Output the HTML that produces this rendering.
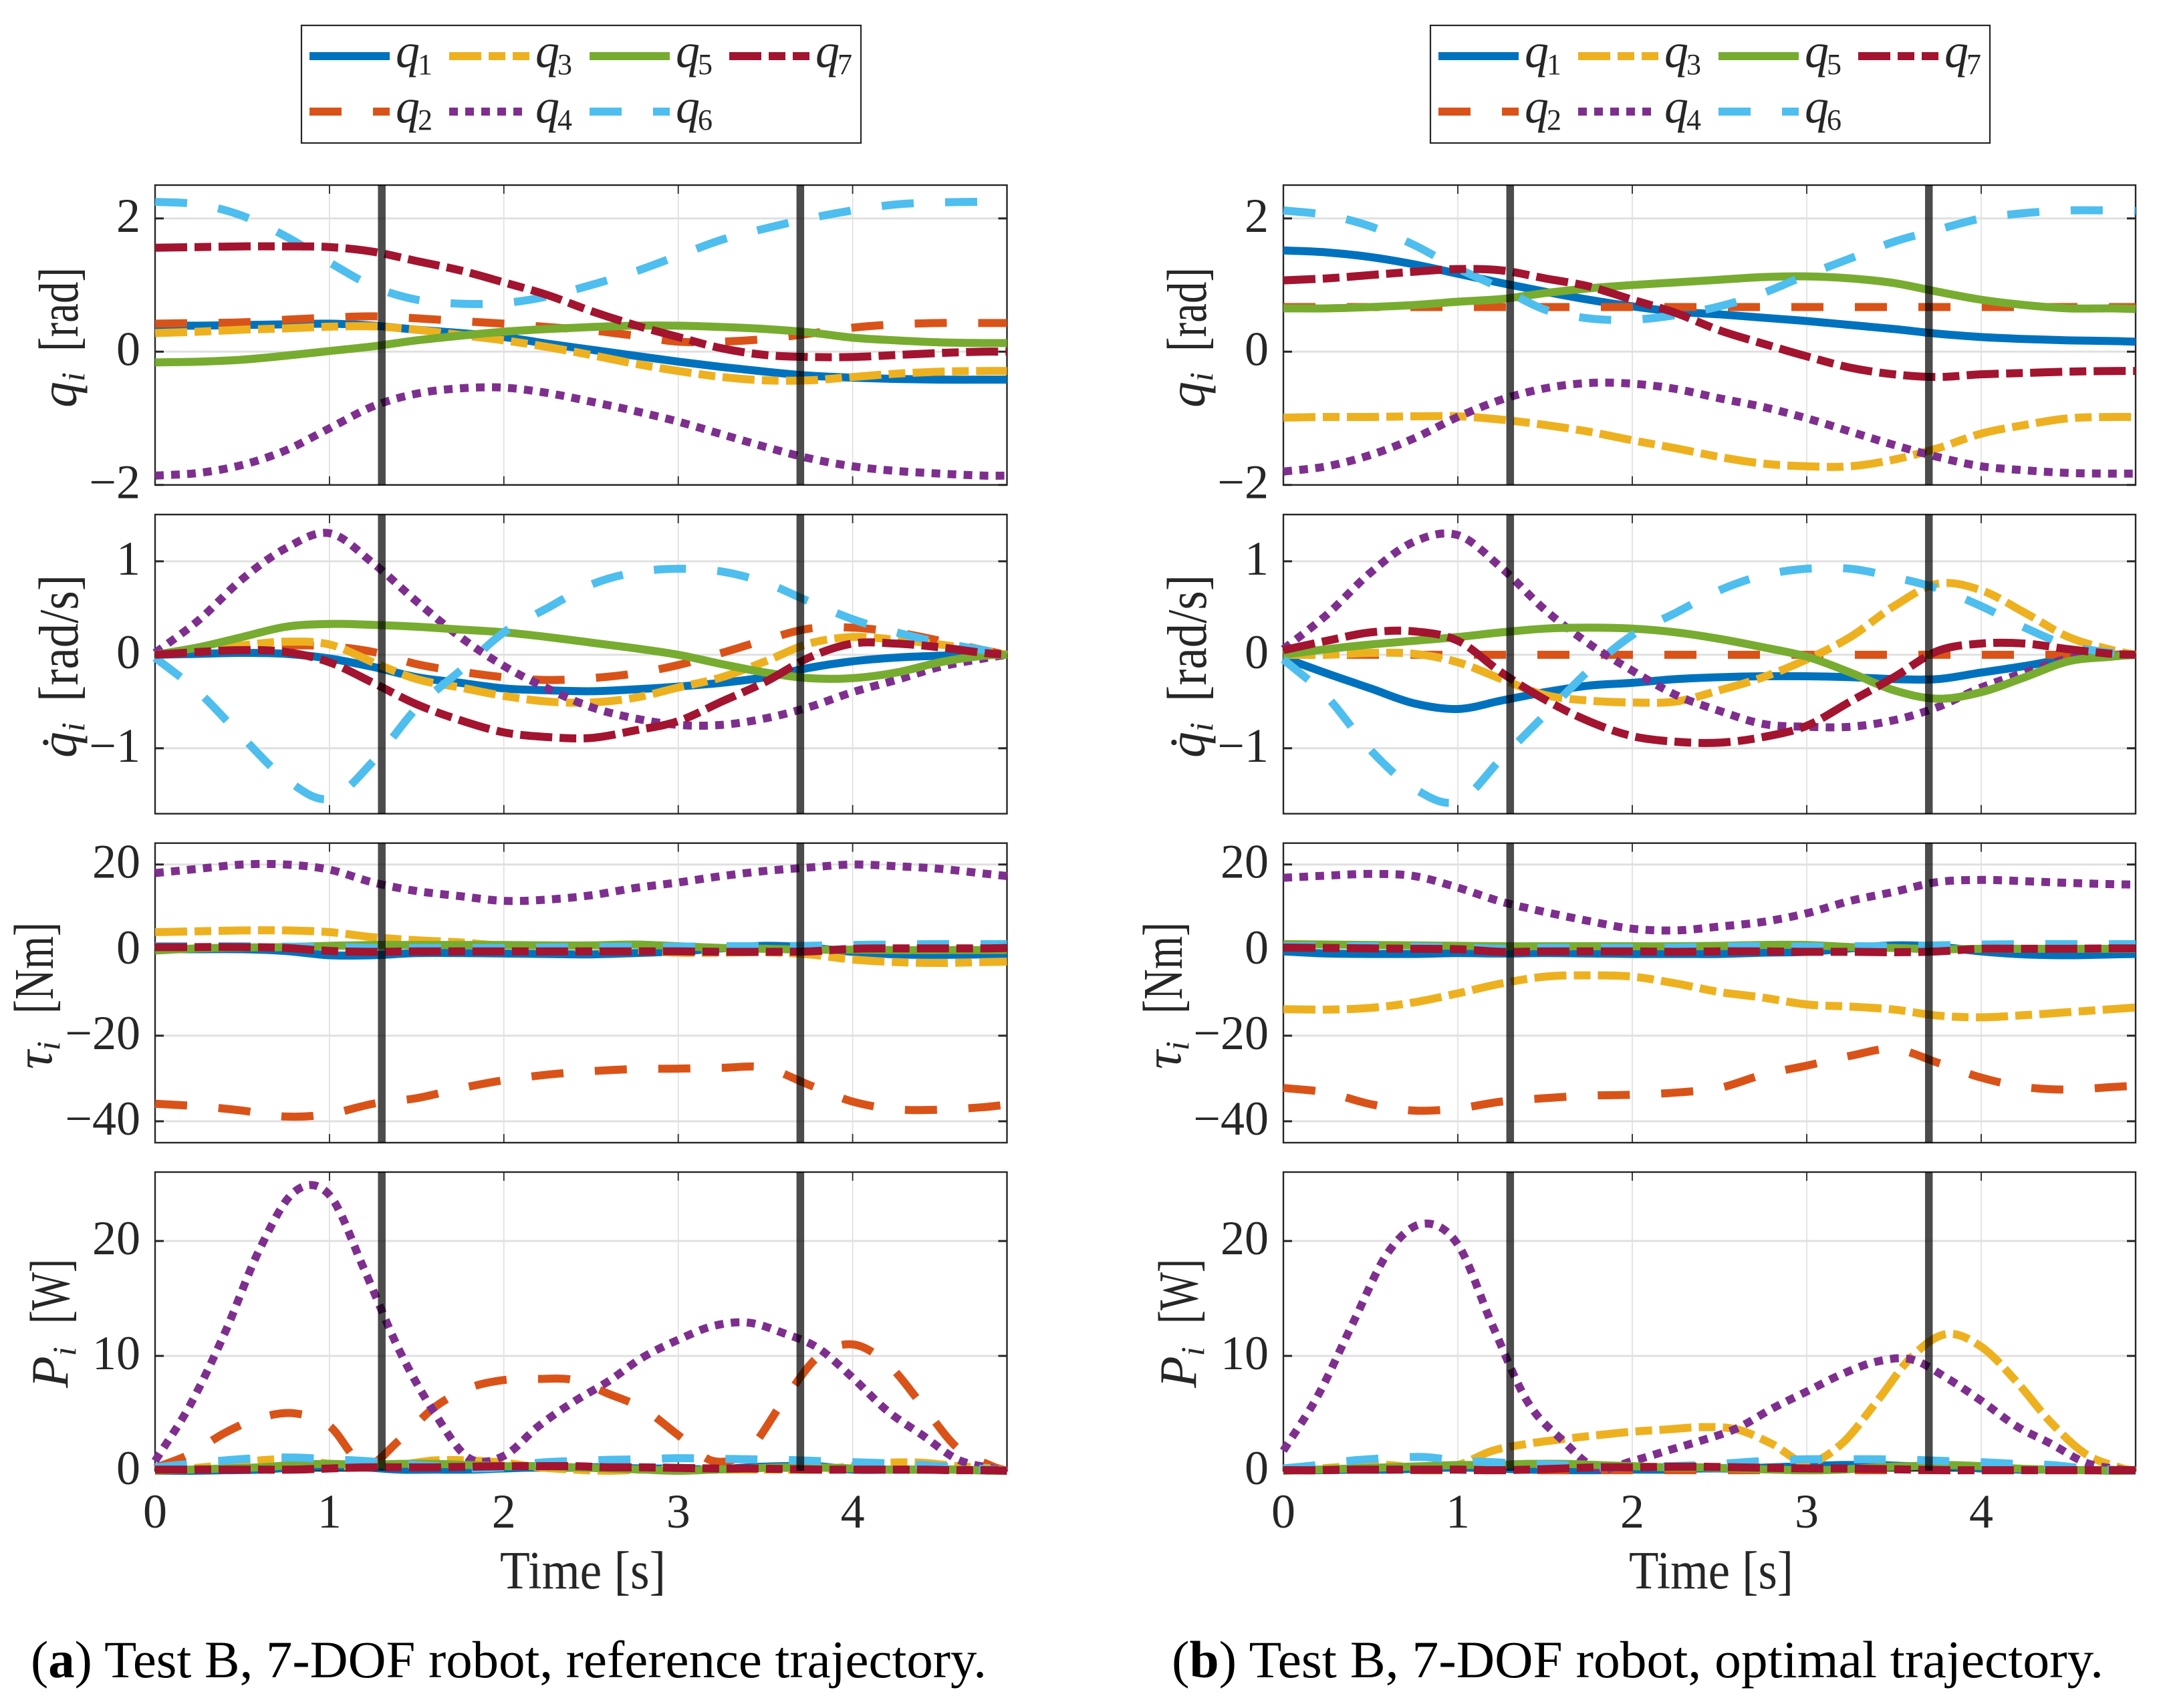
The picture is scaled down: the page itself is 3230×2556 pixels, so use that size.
<!DOCTYPE html>
<html lang="en">
<head>
<meta charset="utf-8">
<title>Test B, 7-DOF robot trajectories</title>
<style>
html,body{margin:0;padding:0;background:#fff;}
svg{display:block;}
text{font-family:"Liberation Serif",serif;fill:#262626;}
.sym{font-style:italic;}
.cap{fill:#000;}
</style>
</head>
<body>
<svg id="figure" xmlns="http://www.w3.org/2000/svg" width="3230" height="2556" viewBox="0 0 3230 2556">
  <rect x="0" y="0" width="3230" height="2556" fill="#fff"/>
  <g id="plots"></g>

  <g font-size="78">
    <text class="sym" transform="translate(114,610) rotate(-90)">q<tspan font-size="50" dy="12">i</tspan></text>
    <text font-size="84" transform="translate(116,526) rotate(-90)" textLength="126" lengthAdjust="spacingAndGlyphs">[rad]</text>
    <text class="sym" transform="translate(114,1134) rotate(-90)">q&#775;<tspan font-size="50" dy="12">i</tspan></text>
    <text font-size="84" transform="translate(116,1050) rotate(-90)" textLength="190" lengthAdjust="spacingAndGlyphs">[rad/s]</text>
    <text class="sym" transform="translate(77,1600) rotate(-90)">&#964;<tspan font-size="50" dy="12">i</tspan></text>
    <text font-size="84" transform="translate(79,1517) rotate(-90)" textLength="137" lengthAdjust="spacingAndGlyphs">[Nm]</text>
    <text class="sym" transform="translate(101,2077) rotate(-90)">P<tspan font-size="50" dy="12">i</tspan></text>
    <text font-size="84" transform="translate(103,1981) rotate(-90)" textLength="97" lengthAdjust="spacingAndGlyphs">[W]</text>
  </g>
  <g font-size="78">
    <text class="sym" transform="translate(1802,610) rotate(-90)">q<tspan font-size="50" dy="12">i</tspan></text>
    <text font-size="84" transform="translate(1804,526) rotate(-90)" textLength="126" lengthAdjust="spacingAndGlyphs">[rad]</text>
    <text class="sym" transform="translate(1802,1134) rotate(-90)">q&#775;<tspan font-size="50" dy="12">i</tspan></text>
    <text font-size="84" transform="translate(1804,1050) rotate(-90)" textLength="190" lengthAdjust="spacingAndGlyphs">[rad/s]</text>
    <text class="sym" transform="translate(1766,1600) rotate(-90)">&#964;<tspan font-size="50" dy="12">i</tspan></text>
    <text font-size="84" transform="translate(1768,1517) rotate(-90)" textLength="137" lengthAdjust="spacingAndGlyphs">[Nm]</text>
    <text class="sym" transform="translate(1789,2077) rotate(-90)">P<tspan font-size="50" dy="12">i</tspan></text>
    <text font-size="84" transform="translate(1791,1981) rotate(-90)" textLength="97" lengthAdjust="spacingAndGlyphs">[W]</text>
  </g>

  <text x="748" y="2377" font-size="80" textLength="248" lengthAdjust="spacingAndGlyphs">Time [s]</text>
  <text x="2437" y="2377" font-size="80" textLength="246" lengthAdjust="spacingAndGlyphs">Time [s]</text>

  <text class="cap" x="46" y="2510" font-size="78" textLength="1430" lengthAdjust="spacingAndGlyphs">(<tspan font-weight="bold">a</tspan>) Test B, 7-DOF robot, reference trajectory.</text>
  <text class="cap" x="1753" y="2510" font-size="78" textLength="1394" lengthAdjust="spacingAndGlyphs">(<tspan font-weight="bold">b</tspan>) Test B, 7-DOF robot, optimal trajectory.</text>

  <g id="legends"></g>
</svg>

<script>
// ---------- time samples ----------
const tSlow = [0,.25,.5,.75,1,1.25,1.5,1.75,2,2.25,2.5,2.75,3,3.25,3.5,3.75,4,4.25,4.5,4.75,4.885];
const tPower = [0,.2,.4,.6,.8,1,1.2,1.4,1.6,1.8,2,2.2,2.4,2.6,2.8,3,3.2,3.4,3.6,3.8,4,4.2,4.4,4.6,4.8,4.885];

// ---------- (a) joint positions ----------
const aPos1 = [.39,.39,.40,.41,.42,.39,.33,.28,.22,.12,.03,-.06,-.15,-.23,-.30,-.36,-.39,-.41,-.42,-.42,-.42];
const aPos2 = [.42,.43,.44,.48,.51,.53,.5,.46,.42,.37,.32,.24,.15,.15,.19,.27,.36,.41,.43,.43,.43];
const aPos3 = [.28,.3,.33,.35,.375,.38,.33,.25,.17,.07,-.05,-.18,-.29,-.38,-.43,-.43,-.38,-.33,-.3,-.29,-.29];
const aPos4 = [-1.86,-1.82,-1.7,-1.48,-1.15,-.82,-.63,-.55,-.54,-.62,-.75,-.89,-1.05,-1.24,-1.43,-1.6,-1.72,-1.79,-1.83,-1.86,-1.86];
const aPos5 = [-.16,-.15,-.12,-.06,.01,.08,.17,.24,.3,.34,.37,.39,.39,.37,.34,.29,.21,.17,.14,.13,.13];
const aPos6 = [2.25,2.21,2.04,1.73,1.34,.98,.78,.72,.73,.83,1.0,1.2,1.44,1.68,1.85,2.0,2.12,2.21,2.24,2.25,2.25];
const aPos7 = [1.56,1.57,1.58,1.58,1.57,1.5,1.36,1.22,1.04,.85,.61,.4,.22,.05,-.05,-.08,-.08,-.05,-.02,0,0];

// ---------- (a) joint velocities ----------
const aVel1 = [0,.01,.02,.01,-.04,-.13,-.24,-.3,-.36,-.38,-.39,-.37,-.34,-.3,-.24,-.14,-.07,-.03,-.01,0,0];
const aVel2 = [0,.03,.07,.1,.09,.03,-.1,-.18,-.24,-.27,-.25,-.2,-.11,.02,.16,.28,.29,.24,.15,.05,0];
const aVel3 = [0,.04,.1,.14,.11,-.08,-.26,-.35,-.44,-.5,-.51,-.46,-.35,-.24,-.07,.12,.19,.16,.11,.04,0];
const aVel4 = [.02,.37,.81,1.14,1.3,.98,.57,.19,-.12,-.36,-.56,-.68,-.75,-.75,-.68,-.56,-.4,-.27,-.13,-.04,0];
const aVel5 = [0,.08,.19,.3,.33,.32,.3,.27,.24,.19,.13,.07,0,-.1,-.19,-.25,-.25,-.19,-.08,-.01,0];
const aVel6 = [-.03,-.4,-.88,-1.33,-1.54,-1.14,-.57,-.17,.24,.5,.75,.88,.92,.89,.77,.57,.38,.24,.13,.05,0];
const aVel7 = [0,.03,.05,.03,-.08,-.3,-.53,-.7,-.83,-.88,-.89,-.81,-.71,-.5,-.29,-.03,.12,.12,.08,.02,0];

// ---------- (a) joint torques ----------
const aTau1 = [.2,.2,.2,-.2,-1.2,-1.2,-.7,-.7,-.8,-.9,-1,-.7,-.3,.4,1,.6,-.4,-1,-1.1,-1,-1];
const aTau2 = [-35.9,-36.5,-37.5,-38.9,-38.3,-35.9,-34.6,-32.3,-30.4,-29.1,-28.3,-27.8,-27.7,-27.5,-27.5,-31.5,-35.4,-37.2,-37.3,-36.7,-36.1];
const aTau3 = [4.2,4.4,4.6,4.6,4.2,3,2.3,1.8,1,.8,.5,0,-.6,-.6,-.5,-1,-2.2,-2.8,-3,-2.8,-2.7];
const aTau4 = [18,19,20,20,18.8,15.8,13.8,12.6,11.5,11.8,12.8,14.5,15.8,17.3,18.5,19.3,20,19.6,19,17.9,17.3];
const aTau5 = [-.1,.4,.6,.7,1,1.2,1.2,1.2,1.2,1.1,1.1,1.3,.9,.5,.3,.1,.1,0,0,0,0];
const aTau6 = [.9,.9,.9,.8,.7,.5,.5,.5,.5,.6,.7,.8,.8,.9,.9,1,1.2,1.3,1.4,1.4,1.4];
const aTau7 = [.7,.7,.7,.5,-.2,-.4,-.3,-.3,-.3,-.3,-.3,-.3,-.3,-.4,-.4,-.3,.3,.4,.4,.4,.5];

// ---------- (a) joint power ----------
const aPow1 = [0,0,.05,.1,.3,.4,.3,.1,.1,.1,.2,.3,.3,.3,.2,.2,.1,.3,.4,.4,.1,.1,.1,.1,0,0];
const aPow2 = [.25,1.45,3.3,4.6,5,3.9,.5,2.65,5.5,7.2,7.9,8,7.9,6.7,5.4,3.1,.85,1.75,6,9.9,11,9.3,5.7,2,.4,0];
const aPow3 = [0,.2,.5,.9,1,.6,.3,.5,.9,.9,.7,.3,.1,0,.1,.1,.1,.1,.1,.1,.4,.7,.7,.4,.2,0];
const aPow4 = [.85,5.7,12,19.3,24.3,24,17.5,10.5,5.1,1.1,1.3,3.9,6,7.8,9.9,11.4,12.6,12.9,12,10.7,8.1,5.2,3.1,1,.2,0];
const aPow5 = [0,.1,.2,.3,.5,.6,.5,.6,.6,.5,.4,.4,.3,.2,.1,0,.1,.2,.3,.3,.2,.1,.1,.1,0,0];
const aPow6 = [.3,.6,.9,1.1,1.15,1.0,.85,.6,.4,.2,.3,.7,.85,.95,1,1.1,1.05,1,.95,.85,.75,.65,.5,.3,.1,0];
const aPow7 = [.1,.1,.1,.1,.1,.2,.3,.3,.3,.35,.4,.4,.4,.3,.3,.25,.2,.2,.15,.1,.1,.1,.1,.05,.05,0];

// ---------- (b) joint positions ----------
const bPos1 = [1.52,1.49,1.42,1.31,1.17,1.03,.9,.78,.68,.6,.56,.51,.46,.4,.34,.27,.22,.19,.17,.16,.15];
const bPos2 = [.67,.67,.67,.67,.67,.67,.67,.67,.67,.67,.67,.67,.67,.67,.67,.67,.67,.67,.67,.67,.67];
const bPos3 = [-.99,-.98,-.98,-.97,-.97,-1.02,-1.1,-1.2,-1.33,-1.45,-1.58,-1.68,-1.72,-1.72,-1.62,-1.45,-1.23,-1.1,-1.0,-.98,-.98];
const bPos4 = [-1.8,-1.72,-1.55,-1.3,-.98,-.72,-.55,-.47,-.48,-.56,-.7,-.83,-1.0,-1.2,-1.4,-1.58,-1.72,-1.78,-1.82,-1.83,-1.83];
const bPos5 = [.65,.65,.67,.7,.75,.79,.88,.95,1.0,1.04,1.08,1.12,1.13,1.1,1.03,.9,.78,.7,.65,.65,.64];
const bPos6 = [2.12,2.05,1.88,1.6,1.25,.95,.63,.5,.48,.55,.68,.88,1.15,1.4,1.65,1.83,2.0,2.08,2.12,2.12,2.11];
const bPos7 = [1.07,1.1,1.15,1.2,1.24,1.22,1.1,.98,.78,.58,.32,.12,-.07,-.24,-.34,-.38,-.34,-.32,-.3,-.29,-.29];

// ---------- (b) joint velocities ----------
const bVel1 = [-.03,-.2,-.36,-.52,-.58,-.49,-.4,-.33,-.3,-.26,-.24,-.23,-.23,-.24,-.26,-.26,-.19,-.12,-.04,0,0];
const bVel2 = [0,0,0,0,0,0,0,0,0,0,0,0,0,0,0,0,0,0,0,0,0];
const bVel3 = [0,0,.02,.01,-.08,-.26,-.43,-.49,-.51,-.5,-.38,-.24,-.05,.19,.52,.76,.69,.45,.19,.05,0];
const bVel4 = [.06,.43,.88,1.21,1.28,.93,.48,.12,-.17,-.43,-.6,-.74,-.77,-.77,-.7,-.56,-.35,-.19,-.04,0,0];
const bVel5 = [0,.06,.11,.15,.19,.24,.28,.29,.28,.24,.17,.08,-.02,-.19,-.38,-.47,-.4,-.24,-.07,-.02,0];
const bVel6 = [-.05,-.45,-1.02,-1.43,-1.57,-1.11,-.64,-.17,.21,.45,.69,.85,.92,.92,.83,.71,.52,.29,.1,.02,0];
const bVel7 = [.05,.15,.24,.25,.15,-.19,-.48,-.71,-.87,-.93,-.94,-.88,-.76,-.5,-.24,.04,.12,.12,.06,.01,0];

// ---------- (b) joint torques ----------
const bTau1 = [-.3,-.8,-.9,-.9,-.7,-.8,-.7,-.8,-.9,-.9,-.9,-.6,-.4,.4,1.1,.8,-.3,-1,-1.2,-1,-.9];
const bTau2 = [-32.2,-33.3,-36,-37.5,-37,-35.4,-34.6,-34,-33.8,-33.3,-32.2,-29.1,-27,-24.7,-23.1,-26.3,-29.8,-32,-32.6,-32,-31.7];
const bTau3 = [-13.8,-13.9,-13.5,-12.2,-10.1,-7.8,-6.2,-5.9,-6.2,-7.8,-9.8,-11.1,-12.7,-13.2,-13.9,-15.3,-15.7,-15.2,-14.5,-13.8,-13.4];
const bTau4 = [16.9,17.4,17.8,17.3,14.6,11.3,8.9,6.8,5,4.6,5.5,6.6,8.6,11.5,13.6,15.9,16.4,16.1,15.7,15.4,15.3];
const bTau5 = [1.4,1.3,1.2,1.1,1,.9,.9,.9,.9,.9,1,1.2,1.2,.7,.5,.2,.3,.3,.3,.3,.3];
const bTau6 = [.9,.9,.9,.8,.6,.3,.5,.5,.5,.6,.8,.9,.8,.9,.9,1.1,1.3,1.4,1.4,1.4,1.4];
const bTau7 = [.6,.5,.4,.3,.2,-.4,-.3,-.3,-.3,-.4,-.3,-.3,-.4,-.4,-.5,-.3,.3,.3,.3,.4,.4];

// ---------- (b) joint power ----------
const bPow1 = [.05,.05,.1,.1,.2,.3,.2,.1,.05,.05,.1,.1,.2,.2,.3,.4,.5,.5,.4,.4,.2,.1,.1,.05,0,0];
const bPow2 = [.05,.05,.1,.1,.05,.05,.05,.05,.05,.05,.05,.05,.05,.05,.05,.05,.05,.05,.05,.05,.05,.05,.05,.05,.05,.05];
const bPow3 = [.1,.2,.4,.5,.2,.5,1.75,2.35,2.75,3.1,3.4,3.6,3.8,3.6,2.35,.7,2.35,6,9.9,11.9,10.8,7.8,4.2,1.45,.25,0];
const bPow4 = [1.75,6.6,12.9,19,21.5,19.7,12.6,6,2.65,.2,.85,1.75,2.65,3.7,5.4,6.9,8.4,9.5,9.7,8.1,6.1,3.9,2.35,.7,.1,0];
const bPow5 = [0,.1,.2,.3,.4,.5,.5,.6,.6,.5,.4,.3,.3,.2,.1,.05,.1,.3,.4,.5,.4,.2,.1,.05,0,0];
const bPow6 = [.2,.5,.9,1.1,1.2,.9,.75,.6,.5,.3,.3,.4,.5,.7,.9,1,1,1,.95,.85,.75,.6,.5,.2,.05,0];
const bPow7 = [.05,.05,.1,.1,.1,.1,.05,.1,.2,.3,.3,.35,.35,.3,.25,.2,.2,.15,.1,.05,.05,.05,.05,.05,.05,.05];

// ---------- ticks and events ----------
const xTicks = [0,1,2,3,4];
const xEnd = 4.885;
const eventTimes = [1.3,3.7];
const posTicks = [-2,0,2];
const velTicks = [-1,0,1];
const tauTicks = [-40,-20,0,20];
const powTicks = [0,10,20];

const seriesNames = ['q1','q2','q3','q4','q5','q6','q7'];

// ---------- styling (not data) ----------
const NS = 'http://www.w3.org/2000/svg';
const colors = ['#0072BD','#D95319','#EDB120','#7E2F8E','#77AC30','#4DBEEE','#A2142F'];
const dashes = ['none','48 47','48 11 25 11','13 11','none','48 47','48 11 25 11'];
const lineWidth = 12;
const rows = [
  {key:'pos', top:277,  bottom:725.7, min:-2,  max:2.5, ticks:posTicks, times:tSlow},
  {key:'vel', top:770,  bottom:1217.7,min:-1.7,max:1.5, ticks:velTicks, times:tSlow},
  {key:'tau', top:1261.7,bottom:1710, min:-45, max:25,  ticks:tauTicks, times:tSlow},
  {key:'pow', top:1754, bottom:2201,  min:0,   max:26,  ticks:powTicks, times:tPower}
];
const columns = [
  {key:'a', left:232,  right:1506.5, sets:{
    pos:[aPos1,aPos2,aPos3,aPos4,aPos5,aPos6,aPos7],
    vel:[aVel1,aVel2,aVel3,aVel4,aVel5,aVel6,aVel7],
    tau:[aTau1,aTau2,aTau3,aTau4,aTau5,aTau6,aTau7],
    pow:[aPow1,aPow2,aPow3,aPow4,aPow5,aPow6,aPow7]}},
  {key:'b', left:1920, right:3195, sets:{
    pos:[bPos1,bPos2,bPos3,bPos4,bPos5,bPos6,bPos7],
    vel:[bVel1,bVel2,bVel3,bVel4,bVel5,bVel6,bVel7],
    tau:[bTau1,bTau2,bTau3,bTau4,bTau5,bTau6,bTau7],
    pow:[bPow1,bPow2,bPow3,bPow4,bPow5,bPow6,bPow7]}}
];

function mk(parent, tag, attrs){
  const el = document.createElementNS(NS, tag);
  for (const k in attrs) el.setAttribute(k, attrs[k]);
  parent.appendChild(el);
  return el;
}

function smoothPath(xs, ys){
  let d = 'M' + xs[0].toFixed(2) + ' ' + ys[0].toFixed(2);
  for (let i = 0; i < xs.length - 1; i++){
    const i0 = Math.max(0, i - 1), i3 = Math.min(xs.length - 1, i + 2);
    const h = xs[i + 1] - xs[i];
    const m1 = (ys[i + 1] - ys[i0]) / (xs[i + 1] - xs[i0]);
    const m2 = (ys[i3] - ys[i]) / (xs[i3] - xs[i]);
    d += 'C' + (xs[i] + h / 3).toFixed(2) + ' ' + (ys[i] + m1 * h / 3).toFixed(2) + ' ' +
         (xs[i + 1] - h / 3).toFixed(2) + ' ' + (ys[i + 1] - m2 * h / 3).toFixed(2) + ' ' +
         xs[i + 1].toFixed(2) + ' ' + ys[i + 1].toFixed(2);
  }
  return d;
}

const plotsRoot = document.getElementById('plots');
const axisColor = '#262626';
const tickLen = 13;

columns.forEach(function(col){
  const xScale = function(t){ return col.left + t * (col.right - col.left) / xEnd; };
  rows.forEach(function(row, rowIndex){
    const yScale = function(v){ return row.bottom - (v - row.min) * (row.bottom - row.top) / (row.max - row.min); };
    const g = mk(plotsRoot, 'g', {});
    
    

    // grid
    xTicks.forEach(function(t){
      const gl = mk(g, 'line', {x1:xScale(t), x2:xScale(t), y1:row.top, y2:row.bottom, stroke:'#dedede', 'stroke-width':1.6});
      
      
    });
    row.ticks.forEach(function(v){
      const gl = mk(g, 'line', {x1:col.left, x2:col.right, y1:yScale(v), y2:yScale(v), stroke:'#e0e0e0', 'stroke-width':3});
      
      
    });

    // ticks
    xTicks.forEach(function(t){
      [[row.top, row.top + tickLen],[row.bottom, row.bottom - tickLen]].forEach(function(p){
        const tk = mk(g, 'line', {x1:xScale(t), x2:xScale(t), y1:p[0], y2:p[1], stroke:axisColor, 'stroke-width':1.8});
        
        
      });
    });
    row.ticks.forEach(function(v){
      [[col.left, col.left + tickLen],[col.right, col.right - tickLen]].forEach(function(p){
        const tk = mk(g, 'line', {x1:p[0], x2:p[1], y1:yScale(v), y2:yScale(v), stroke:axisColor, 'stroke-width':3});
        
        
      });
      const lb = mk(g, 'text', {x:col.left - 22, y:yScale(v) + 20, 'font-size':72, 'text-anchor':'end'});
      lb.textContent = v < 0 ? '\u2212' + Math.abs(v) : String(v);
      
      
    });
    if (rowIndex === rows.length - 1){
      xTicks.forEach(function(t){
        const lb = mk(g, 'text', {x:xScale(t), y:2286, 'font-size':72, 'text-anchor':'middle'});
        lb.textContent = String(t);
        
        
      });
    }

    // box
    const box = mk(g, 'rect', {x:col.left, y:row.top, width:col.right - col.left, height:row.bottom - row.top, fill:'none', stroke:axisColor, 'stroke-width':2.4});
    
    

    // series
    const sets = col.sets[row.key];
    sets.forEach(function(values, i){
      const xs = row.times.map(xScale);
      const ys = values.map(yScale);
      const attrs = {d:smoothPath(xs, ys), fill:'none', stroke:colors[i], 'stroke-width':lineWidth, 'stroke-linecap':'butt', 'stroke-linejoin':'round'};
      if (dashes[i] !== 'none') attrs['stroke-dasharray'] = dashes[i];
      const p = mk(g, 'path', attrs);
      
      
    });

    // event markers
    eventTimes.forEach(function(t){
      const ev = mk(g, 'line', {x1:xScale(t), x2:xScale(t), y1:row.top, y2:row.bottom, stroke:'#000', 'stroke-opacity':.7, 'stroke-width':11.5});
      
      
    });
  });
});

// ---------- legends ----------
const legendsRoot = document.getElementById('legends');
const legendBoxes = [{key:'a', left:451, right:1288},{key:'b', left:2140, right:2977}];
const legendCols = [[0,2,4,6],[1,3,5]];
const legendColX = [12, 221, 431, 640];
const legendRowY = [84, 167];

legendBoxes.forEach(function(box){
  const g = mk(legendsRoot, 'g', {});
  
  
  const frame = mk(g, 'rect', {x:box.left, y:38, width:box.right - box.left, height:176, fill:'#fff', stroke:axisColor, 'stroke-width':2.2});
  
  
  legendCols.forEach(function(list, r){
    list.forEach(function(si, c){
      const x0 = box.left + legendColX[c];
      const y = legendRowY[r];
      const attrs = {x1:x0, x2:x0 + 120, y1:y, y2:y, stroke:colors[si], 'stroke-width':lineWidth};
      if (dashes[si] !== 'none') attrs['stroke-dasharray'] = dashes[si];
      const ln = mk(g, 'line', attrs);
      
      
      const tx = mk(g, 'text', {x:x0 + 129, y:y + 16, 'font-size':72});
      
      
      const qs = mk(tx, 'tspan', {'font-style':'italic'});
      qs.textContent = 'q';
      const sub = mk(tx, 'tspan', {'font-size':44, dy:11, dx:-3});
      sub.textContent = String(si + 1);
    });
  });
});
</script>
</body>
</html>
